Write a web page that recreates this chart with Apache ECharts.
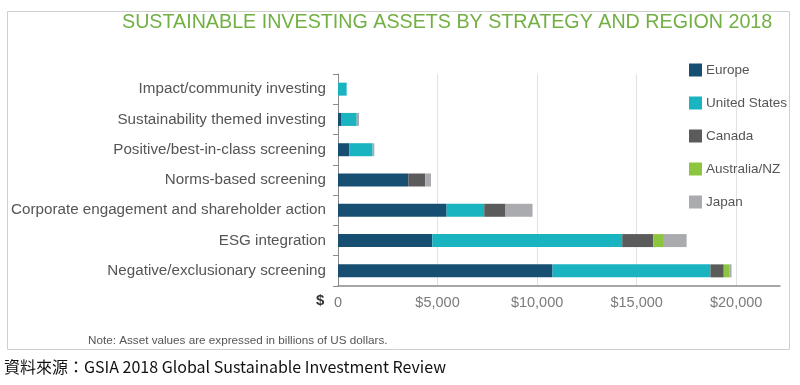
<!DOCTYPE html>
<html><head><meta charset="utf-8">
<script src="https://cdn.jsdelivr.net/npm/echarts@6/dist/echarts.min.js"></script>
<style>html,body{margin:0;padding:0;background:#fff}#c{width:800px;height:385px}</style>
</head><body><div id="c"></div>
<script>
// categories listed bottom-to-top (ECharts category order)
const categories = [
  'Negative/exclusionary screening',
  'ESG integration',
  'Corporate engagement and shareholder action',
  'Norms-based screening',
  'Positive/best-in-class screening',
  'Sustainability themed investing',
  'Impact/community investing'
];
const europe = [10775, 4735, 5455, 3530, 570, 150, 0];
const unitedStates = [7930, 9540, 1890, 0, 1170, 790, 435];
const canada = [670, 1560, 1070, 855, 0, 0, 0];
const australiaNZ = [300, 535, 0, 0, 0, 0, 0];
const japan = [90, 1140, 1355, 285, 85, 115, 0];
const seriesNames = ['Europe', 'United States', 'Canada', 'Australia/NZ', 'Japan'];
const seriesColors = ['#174f73', '#1ab3c0', '#5b5b5b', '#8cc63f', '#a9abae'];
const xTicks = [0, 5000, 10000, 15000, 20000];

const font = '"Liberation Sans", Arial, sans-serif';
const chart = echarts.init(document.getElementById('c'), null, {renderer: 'canvas'});
const dataSets = [europe, unitedStates, canada, australiaNZ, japan];
chart.setOption({
  animation: false,
  textStyle: {fontFamily: font},
  title: {
    text: 'SUSTAINABLE INVESTING ASSETS BY STRATEGY AND REGION 2018',
    left: 117, top: 8,
    textStyle: {color: '#72b043', fontSize: 19.7, fontWeight: 'normal', fontFamily: font}
  },
  legend: {
    orient: 'vertical', left: 684, top: 58,
    itemWidth: 13, itemHeight: 13, itemGap: 19, icon: 'rect',
    textStyle: {color: '#555', fontSize: 13.5, fontFamily: font, padding: [0, 0, 0, -1]},
    data: seriesNames
  },
  grid: {left: 338, right: 20, top: 74, bottom: 99, containLabel: false},
  xAxis: {
    type: 'value', min: 0, max: 22200, interval: 5000,
    axisLine: {show: true, lineStyle: {color: '#8a8a8a', width: 1.5}},
    axisTick: {show: false},
    splitLine: {show: true, showMinLine: false, showMaxLine: false, lineStyle: {color: '#e2e2e2', width: 1}},
    axisLabel: {
      showMaxLabel: false, color: '#7a7a7a', fontSize: 14.5, margin: 9,
      formatter: v => xTicks.indexOf(v) < 0 ? '' : (v === 0 ? '0' : '$' + v.toLocaleString('en-US'))
    }
  },
  yAxis: {
    type: 'category', data: categories,
    axisLine: {show: true, lineStyle: {color: '#8a8a8a', width: 1}},
    axisTick: {show: true, length: 5, lineStyle: {color: '#8a8a8a'}},
    axisLabel: {color: '#555', fontSize: 15.2, margin: 12}
  },
  series: seriesNames.map((n, i) => ({
    name: n, type: 'bar', stack: 'total', barWidth: 13,
    itemStyle: {color: seriesColors[i]},
    data: dataSets[i]
  })),
  graphic: [
    {type: 'rect', shape: {x: 7.5, y: 11.5, width: 782, height: 338}, style: {fill: 'none', stroke: '#cfcfcf', lineWidth: 1}, z: -1},
    {type: 'text', left: 316, top: 293, style: {text: '$', fill: '#333', font: 'bold 15px ' + font}},
    {type: 'text', left: 88, top: 335, style: {text: 'Note: Asset values are expressed in billions of US dollars.', fill: '#555', font: '11.7px ' + font}},
    {type: 'text', left: 4, top: 359, style: {text: '資料來源：GSIA 2018 Global Sustainable Investment Review', fill: '#111', font: '16px "Noto Sans CJK TC", "Noto Sans", sans-serif'}}
  ]
});
</script></body></html>
